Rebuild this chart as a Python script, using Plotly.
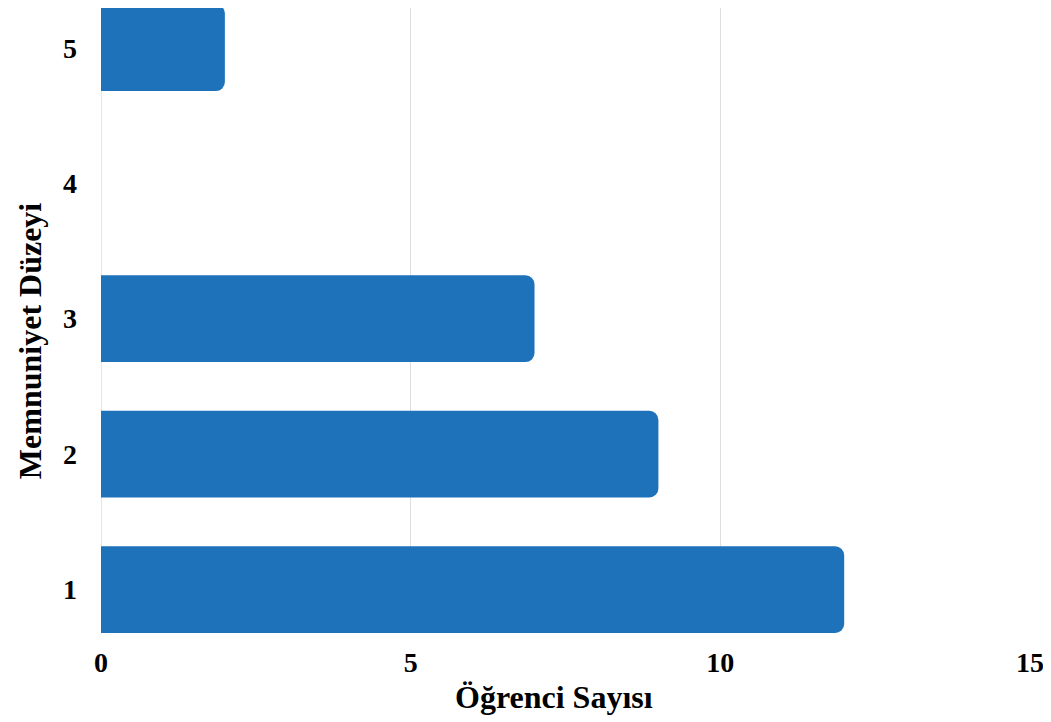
import plotly.graph_objects as go

levels = [1, 2, 3, 4, 5]
students = [12, 9, 7, 0, 2]
x_ticks = [0, 5, 10, 15]

x_title = "Öğrenci Sayısı"
y_title = "Memnuniyet Düzeyi"

bar_color = "rgb(30,114,186)"
serif = "Liberation Serif, Times New Roman, serif"

fig = go.Figure()
fig.add_trace(go.Bar(
    x=students,
    y=levels,
    orientation="h",
    width=0.64,
    marker=dict(color=bar_color, line=dict(width=0), cornerradius=9),
))

# page body has an 8px margin, so the figure is made 8px smaller
fig.update_layout(
    width=1043,
    height=714,
    margin=dict(l=93, r=21, t=0, b=89),
    paper_bgcolor="white",
    plot_bgcolor="white",
    showlegend=False,
    font=dict(family=serif, size=28, color="black", weight="bold"),
)

fig.update_xaxes(
    range=[0, 15],
    tickvals=x_ticks,
    showgrid=True,
    gridcolor="#dedede",
    gridwidth=1,
    zeroline=True,
    zerolinecolor="#e6e6e6",
    zerolinewidth=1,
    showline=False,
    ticks="",
    ticklabelstandoff=10,
    tickfont=dict(family=serif, size=28, weight="bold"),
)

fig.update_yaxes(
    range=[0.68, 5.293],
    tickvals=levels,
    showgrid=False,
    zeroline=False,
    showline=False,
    ticks="",
    ticklabelstandoff=23,
    tickfont=dict(family=serif, size=28, weight="bold"),
)

fig.add_annotation(
    text=x_title, xref="paper", yref="paper", x=0.4876, y=-0.1024,
    xanchor="center", yanchor="middle", showarrow=False,
    font=dict(family=serif, size=32, weight="bold"),
)
fig.add_annotation(
    text=y_title, xref="paper", yref="paper", x=-0.0764, y=0.467,
    xanchor="center", yanchor="middle", showarrow=False, textangle=-90,
    font=dict(family=serif, size=32, weight="bold"),
)

fig.write_html("out.html")
